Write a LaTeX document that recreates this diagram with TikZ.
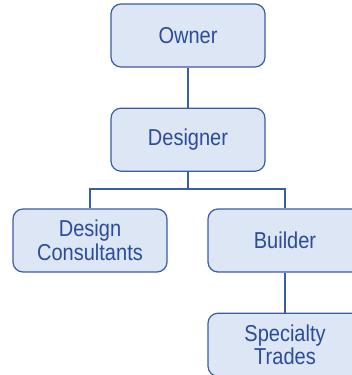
\documentclass[tikz,border=0pt]{standalone}
\usepackage{fontspec}
\setmainfont{Liberation Sans}[FakeStretch=0.87]
\usetikzlibrary{positioning}

\definecolor{boxfill}{HTML}{DCE6F4}
\definecolor{boxline}{HTML}{3A5DA6}
\definecolor{boxtext}{HTML}{2B4C9B}

\tikzset{
  role/.style={draw=boxline, fill=boxfill, line width=1.2pt, rounded corners=10pt,
    minimum width=154pt, minimum height=63pt, align=center, text=boxtext,
    font=\fontsize{23}{23.5}\selectfont},
  link/.style={draw=boxline, line width=1.2pt}
}

\begin{document}
\begin{tikzpicture}[x=1pt,y=1pt]
        \useasboundingbox (0,0) rectangle (351,-375);

        % boxes
        \node[role] (owner) at (188,-35.5) {Owner};
        \node[role, below=40pt of owner] (designer) {Designer};
        \node[role] (consult) at (90,-240.5) {Design\\Consultants};
        \node[role] (builder) at (285,-240.5) {Builder};
        \node[role, below=40pt of builder] (trades) {Specialty\\Trades};

        % lines between them
        \coordinate (split) at (188,-189);
        \draw[link] (owner) -- (designer);
        \draw[link] (designer) -- (split);
        \draw[link] (split) -| (consult);
        \draw[link] (split) -| (builder);
        \draw[link] (builder) -- (trades);
      \end{tikzpicture}
\end{document}
